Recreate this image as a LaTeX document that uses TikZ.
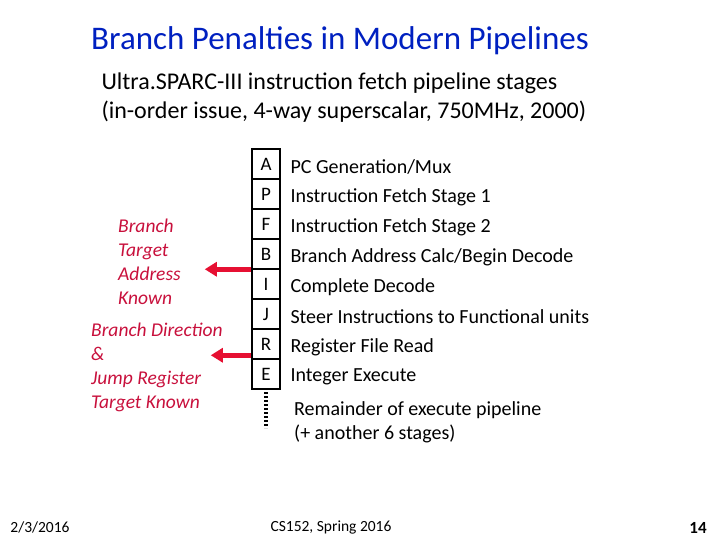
\documentclass[tikz,border=0pt]{standalone}
\usetikzlibrary{arrows.meta}
\usepackage{fontspec}
\setmainfont{Carlito}
\definecolor{ttl}{RGB}{0,32,192}
\definecolor{rd}{RGB}{200,16,60}
\definecolor{arr}{RGB}{230,16,50}
\begin{document}
\begin{tikzpicture}[x=1pt,y=-1pt,
  stage/.style={draw,line width=2.5pt,minimum width=28pt,minimum height=30pt,inner sep=0pt,font=\fontsize{19}{22}\selectfont},
  desc/.style={anchor=west,font=\fontsize{20}{24}\selectfont},
  lab/.style={align=left,anchor=north west,text=rd,font=\fontsize{19.5}{24}\selectfont\itshape,inner sep=0pt},
  redarrow/.style={-{Triangle[length=12pt,width=14pt]},line width=5pt,draw=arr}]
\useasboundingbox (0,0) rectangle (720,540);
\node[text=ttl,font=\fontsize{33}{36}\selectfont] (title) at (340,41) {Branch Penalties in Modern Pipelines};
\node[anchor=west,align=left,font=\fontsize{24}{29}\selectfont] (sub) at (98,98) {Ultra.SPARC-III instruction fetch pipeline stages\\(in-order issue, 4-way superscalar, 750MHz, 2000)};
\foreach \l/\d [count=\i from 0] in {A/{PC Generation/Mux},P/{Instruction Fetch Stage 1},F/{Instruction Fetch Stage 2},B/{Branch Address Calc/Begin Decode},I/{Complete Decode},J/{Steer Instructions to Functional units},R/{Register File Read},E/{Integer Execute}}{
  \node[stage] (s\l) at (266,164+30*\i) {\l};
  \node[desc] (d\l) at (287,167+30*\i) {\d};
}
\coordinate (dt) at (266,392);
\coordinate (db) at (266,428);
\draw[line width=4pt,dash pattern=on 2pt off 2pt] (dt) -- (db);
\node[anchor=north west,align=left,font=\fontsize{20}{24}\selectfont,inner sep=0pt] (rem) at (294,401) {Remainder of execute pipeline\\(+ another 6 stages)};
\node[lab] (l1) at (118,219) {Branch\\Target\\Address\\Known};
\node[lab] (l2) at (91,323) {Branch Direction\\\&\\Jump Register\\Target Known};
\draw[redarrow] (sB.south west) ++(0,-1) coordinate (a1) -- ++(-46,0) coordinate (a1e);
\draw[redarrow] (sR.south west) ++(0,-5) coordinate (a2) -- ++(-40,0) coordinate (a2e);
\node[font=\fontsize{15.5}{17}\selectfont] (date) at (40,527) {2/3/2016};
\node[font=\fontsize{15.5}{17}\selectfont] (cs) at (331,527) {CS152, Spring 2016};
\node[font=\bfseries\fontsize{17}{18}\selectfont] (pg) at (698,528) {14};
\end{tikzpicture}
\end{document}
